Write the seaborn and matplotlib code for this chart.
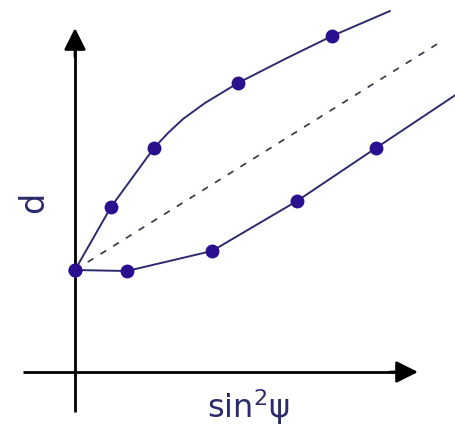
import matplotlib
matplotlib.use("Agg")
import matplotlib.pyplot as plt
import seaborn as sns
import pandas as pd

sns.set_theme(style="white")
plt.rcParams["font.family"] = ["DejaVu Sans"]
plt.rcParams["mathtext.fontset"] = "dejavusans"

# Measured spacings d versus sin^2(psi): two split branches with a common start
upper_x = [0.00, 0.36, 0.79, 1.63, 2.57]
upper_d = [1.02, 1.65, 2.24, 2.89, 3.36]
lower_x = [0.00, 0.52, 1.37, 2.22, 3.01]
lower_d = [1.02, 1.01, 1.21, 1.71, 2.24]

# Traced course of each branch between and beyond the measured points
upper_path_x = [0.00, 0.36, 0.79, 0.93, 1.08, 1.30, 1.63, 2.10, 2.57, 3.15]
upper_path_d = [1.02, 1.65, 2.24, 2.39, 2.53, 2.69, 2.89, 3.13, 3.36, 3.61]
lower_path_x = [0.00, 0.52, 1.37, 2.22, 3.01, 3.85]
lower_path_d = [1.02, 1.01, 1.21, 1.71, 2.24, 2.80]

# Mean (linear) trend between the branches
mean_x = [0.00, 3.67]
mean_d = [1.02, 3.31]

line_color = "#2e2a6e"
marker_color = "#2a0f8f"
text_color = "#2b2b6b"

paths = pd.DataFrame({
    "x": upper_path_x + lower_path_x,
    "d": upper_path_d + lower_path_d,
    "branch": ["upper"] * len(upper_path_x) + ["lower"] * len(lower_path_x),
})
points = pd.DataFrame({
    "x": upper_x + lower_x,
    "d": upper_d + lower_d,
})
mean = pd.DataFrame({"x": mean_x, "d": mean_d})

fig = plt.figure(figsize=(4.56, 4.28), dpi=100)
ax = fig.add_axes([0, 0, 1, 1])
ax.set_xlim(-0.75, 3.81)
ax.set_ylim(-0.56, 3.72)
ax.axis("off")

# Coordinate axes with arrow heads
ax.plot([-0.52, 3.21], [0, 0], color="black", lw=2.0, solid_capstyle="butt", zorder=1)
ax.plot([0, 0], [-0.40, 3.22], color="black", lw=2.0, solid_capstyle="butt", zorder=1)
ax.annotate("", xy=(3.43, 0), xytext=(3.15, 0),
            arrowprops=dict(arrowstyle="-|>,head_length=1.1,head_width=0.55",
                            color="black", lw=2.0, shrinkA=0, shrinkB=0))
ax.annotate("", xy=(0, 3.44), xytext=(0, 3.15),
            arrowprops=dict(arrowstyle="-|>,head_length=1.1,head_width=0.55",
                            color="black", lw=2.0, shrinkA=0, shrinkB=0))

sns.lineplot(data=mean, x="x", y="d", ax=ax, color="#333344", lw=1.2,
             linestyle=(0, (4, 5)), sort=False, zorder=2)
sns.lineplot(data=paths, x="x", y="d", units="branch", estimator=None,
             ax=ax, color=line_color, lw=1.4, sort=False, zorder=3)
sns.scatterplot(data=points, x="x", y="d", ax=ax, color=marker_color,
                s=100, marker="o", edgecolor=marker_color, linewidth=0, zorder=4)

ax.text(1.73, -0.35, r"sin$^{2}$ψ", color=text_color, fontsize=23,
        ha="center", va="center")
ax.text(-0.41, 1.70, "d", color=text_color, fontsize=24, rotation=90,
        ha="center", va="center")

ax.set_xlabel("")
ax.set_ylabel("")
fig.savefig("out.png", dpi=100)
